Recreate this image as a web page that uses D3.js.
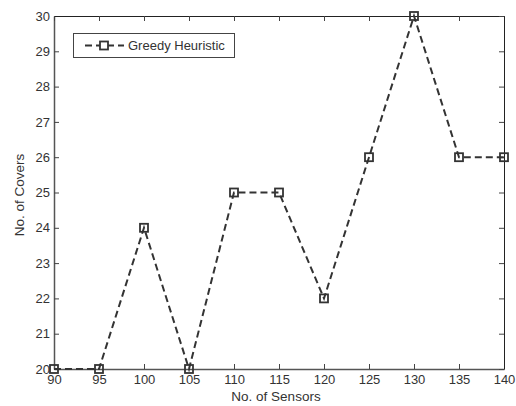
<!DOCTYPE html>
<html>
<head>
<meta charset="utf-8">
<script src="https://cdn.jsdelivr.net/npm/d3@7"></script>
<style>
  body { margin: 0; background: #fff; }
  svg text { font-family: Arial, "Liberation Sans", sans-serif; fill: #333; }
</style>
</head>
<body>
<svg id="chart"></svg>
<script>
// valori
const sensors = [90, 95, 100, 105, 110, 115, 120, 125, 130, 135, 140];
const covers = [20, 20, 24, 20, 25, 25, 22, 26, 30, 26, 26];
const xTicks = [90, 95, 100, 105, 110, 115, 120, 125, 130, 135, 140];
const yTicks = [20, 21, 22, 23, 24, 25, 26, 27, 28, 29, 30];
const seriesName = "Greedy Heuristic";

const width = 516, height = 406;
const plotLeft = 54, plotRight = 504, plotTop = 16, plotBottom = 369;

let svg = d3.select("#chart").attr("width", width).attr("height", height);

let xScale = d3.scaleLinear().domain([90, 140]).range([plotLeft, plotRight]);
let yScale = d3.scaleLinear().domain([20, 30]).range([plotBottom, plotTop]);

// assi con tick interni, come in matlab
svg.append("g")
    .attr("transform", `translate(0,${plotBottom})`)
    .call(d3.axisBottom(xScale).tickValues(xTicks).tickSizeInner(-5).tickSizeOuter(0).tickPadding(6))
    .call(g => g.select(".domain").attr("stroke", "#555").attr("stroke-width", 1.5))
    .call(g => g.selectAll(".tick line").attr("stroke", "#444"))
    .call(g => g.selectAll("text").attr("font-size", 13).attr("fill", "#333"));

svg.append("g")
    .attr("transform", `translate(${plotLeft},0)`)
    .call(d3.axisLeft(yScale).tickValues(yTicks).tickSizeInner(-5).tickSizeOuter(0).tickPadding(4))
    .call(g => g.select(".domain").attr("stroke", "#555").attr("stroke-width", 1.5))
    .call(g => g.selectAll(".tick line").attr("stroke", "#444"))
    .call(g => g.selectAll("text").attr("font-size", 13).attr("fill", "#333"));

svg.append("g")
    .attr("transform", `translate(0,${plotTop})`)
    .call(d3.axisTop(xScale).tickValues(xTicks).tickSizeInner(-5).tickSizeOuter(0).tickFormat(""))
    .call(g => g.select(".domain").attr("stroke", "#222"))
    .call(g => g.selectAll(".tick line").attr("stroke", "#444"));

svg.append("g")
    .attr("transform", `translate(${plotRight},0)`)
    .call(d3.axisRight(yScale).tickValues(yTicks).tickSizeInner(-5).tickSizeOuter(0).tickFormat(""))
    .call(g => g.select(".domain").attr("stroke", "#222"))
    .call(g => g.selectAll(".tick line").attr("stroke", "#444"));

// etichette degli assi
svg.append("text")
    .attr("x", 276)
    .attr("y", 401)
    .attr("text-anchor", "middle")
    .attr("font-size", 13.5)
    .text("No. of Sensors");

svg.append("text")
    .attr("transform", "translate(24,195) rotate(-90)")
    .attr("text-anchor", "middle")
    .attr("font-size", 13.5)
    .text("No. of Covers");

// linea tratteggiata
const data = sensors.map((s, i) => ({ x: s, y: covers[i] }));
let line = d3.line().x(d => xScale(d.x)).y(d => yScale(d.y));

svg.append("path")
    .datum(data)
    .attr("d", line)
    .attr("fill", "none")
    .attr("stroke", "#333")
    .attr("stroke-width", 2)
    .attr("stroke-dasharray", "7,4");

svg.selectAll("rect.marker")
    .data(data)
    .enter()
    .append("rect")
    .attr("class", "marker")
    .attr("x", d => xScale(d.x) - 4)
    .attr("y", d => yScale(d.y) - 4)
    .attr("width", 8)
    .attr("height", 8)
    .attr("fill", "none")
    .attr("stroke", "#333")
    .attr("stroke-width", 1.8);

// legenda
let legend = svg.append("g");
legend.append("rect")
    .attr("x", 73.5).attr("y", 33.5)
    .attr("width", 161).attr("height", 24)
    .attr("fill", "#fff").attr("stroke", "#444").attr("stroke-width", 1);
legend.append("line")
    .attr("x1", 85).attr("x2", 124).attr("y1", 45.5).attr("y2", 45.5)
    .attr("stroke", "#333").attr("stroke-width", 2).attr("stroke-dasharray", "7,4");
legend.append("rect")
    .attr("x", 100).attr("y", 41.5).attr("width", 8).attr("height", 8)
    .attr("fill", "#fff").attr("stroke", "#333").attr("stroke-width", 1.8);
legend.append("text")
    .attr("x", 128).attr("y", 50)
    .attr("font-size", 13)
    .text(seriesName);
</script>
</body>
</html>
